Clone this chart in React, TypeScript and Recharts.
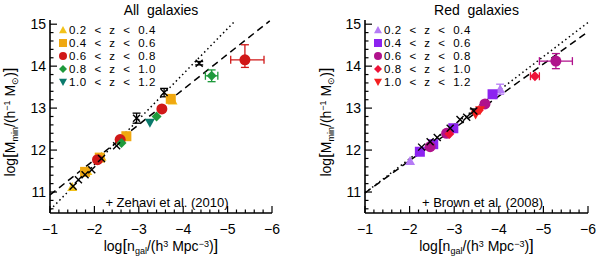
import React from 'react'
import {
  ScatterChart,
  Scatter,
  XAxis,
  YAxis,
  ErrorBar,
  ReferenceLine,
} from 'recharts'

// ---- data ----
const X_MAJOR = [-1, -2, -3, -4, -5, -6]
const Y_MAJOR = [11, 12, 13, 14, 15]
const X_DOMAIN = [-6, -1]
const Y_DOMAIN = [10.5, 15.1]

const zBins = ['0.2  <  z  <  0.4', '0.4  <  z  <  0.6', '0.6  <  z  <  0.8', '0.8  <  z  <  1.0', '1.0  <  z  <  1.2']

// All galaxies
const zehavi = [
  { x: -1.52, y: 11.14 },
  { x: -1.64, y: 11.29 },
  { x: -1.79, y: 11.41 },
  { x: -1.94, y: 11.53 },
  { x: -2.16, y: 11.8 },
  { x: -2.5, y: 12.1 },
  { x: -2.95, y: 12.76, ey: 0.12 },
  { x: -3.57, y: 13.37, ey: 0.1 },
  { x: -4.36, y: 14.07, ey: 0.04 },
]
const allZ02 = [
  { x: -1.5, y: 11.12 },
  { x: -1.84, y: 11.5 },
  { x: -2.16, y: 11.84 },
  { x: -3.76, y: 13.18 },
]
const allZ04 = [
  { x: -1.79, y: 11.48 },
  { x: -2.12, y: 11.82 },
  { x: -2.72, y: 12.33 },
  { x: -3.72, y: 13.22 },
]
const allZ06 = [
  { x: -2.07, y: 11.77 },
  { x: -2.58, y: 12.25 },
  { x: -3.52, y: 12.98 },
  { x: -5.39, y: 14.15, ex: [0.43, 0.32], ey: [0.18, 0.36] },
]
const allZ08 = [
  { x: -2.61, y: 12.17 },
  { x: -3.4, y: 12.8 },
  { x: -4.64, y: 13.77, ex: 0.14, ey: 0.14 },
]
const allZ10 = [{ x: -3.25, y: 12.65 }]
const allDashed = [
  { x: -1, y: 10.93 },
  { x: -5.95, y: 15.08 },
]
const allDotted = [
  { x: -1, y: 10.57 },
  { x: -5.17, y: 15.08 },
]

// Red galaxies
const brown = [
  { x: -2.27, y: 12.07 },
  { x: -2.46, y: 12.2 },
  { x: -2.62, y: 12.3 },
  { x: -2.91, y: 12.52 },
  { x: -3.13, y: 12.73 },
  { x: -3.28, y: 12.78 },
  { x: -3.44, y: 12.93, ey: 0.05 },
]
const redZ02 = [
  { x: -2.01, y: 11.74 },
  { x: -4.03, y: 13.45, ey: 0.12 },
]
const redZ04 = [
  { x: -2.23, y: 11.96 },
  { x: -2.53, y: 12.14 },
  { x: -2.98, y: 12.52 },
  { x: -3.86, y: 13.33 },
]
const redZ06 = [
  { x: -2.46, y: 12.08 },
  { x: -2.83, y: 12.4 },
  { x: -3.69, y: 13.1 },
  { x: -5.28, y: 14.12, ex: 0.37, ey: 0.18 },
]
const redZ08 = [
  { x: -2.89, y: 12.38 },
  { x: -3.55, y: 12.95 },
  { x: -4.81, y: 13.76, ex: 0.1 },
]
const redZ10 = [
  { x: -3.48, y: 12.85 },
  { x: -3.58, y: 12.95 },
]
const redDashed = [
  { x: -1, y: 10.98 },
  { x: -6, y: 14.82 },
]
const redDotted = [
  { x: -1, y: 10.98 },
  { x: -6, y: 15.04 },
]

const FONT = '"Liberation Sans", Arial, sans-serif'
const INK = '#000'

// minor ticks every 0.2 between majors
function withMinors(lo: number, hi: number) {
  const out: number[] = []
  for (let i = Math.round(lo * 5); i <= Math.round(hi * 5); i++) out.push(i / 5)
  return out
}
const xTicks = withMinors(-6, -1)
const yTicks = withMinors(10.6, 15)
const isMajor = (v: number) => Math.abs(v - Math.round(v)) < 1e-6

type Kind = 'triUp' | 'square' | 'circle' | 'diamond' | 'triDown' | 'cross'

function Glyph({ kind, cx, cy, color, s }: { kind: Kind; cx: number; cy: number; color: string; s: number }) {
  if (cx == null || cy == null) return null
  switch (kind) {
    case 'triUp':
      return <polygon points={`${cx},${cy - s} ${cx - s},${cy + s * 0.8} ${cx + s},${cy + s * 0.8}`} fill={color} />
    case 'triDown':
      return <polygon points={`${cx},${cy + s} ${cx - s},${cy - s * 0.8} ${cx + s},${cy - s * 0.8}`} fill={color} />
    case 'square':
      return <rect x={cx - s} y={cy - s} width={2 * s} height={2 * s} fill={color} />
    case 'circle':
      return <circle cx={cx} cy={cy} r={s} fill={color} />
    case 'diamond':
      return <polygon points={`${cx},${cy - s} ${cx + s},${cy} ${cx},${cy + s} ${cx - s},${cy}`} fill={color} />
    default:
      return (
        <g stroke={color} strokeWidth={1.4}>
          <line x1={cx - s} y1={cy - s} x2={cx + s} y2={cy + s} />
          <line x1={cx - s} y1={cy + s} x2={cx + s} y2={cy - s} />
        </g>
      )
  }
}

const shapeOf = (kind: Kind, color: string, s: number) => (p: any) => (
  <Glyph kind={kind} cx={p.cx} cy={p.cy} color={color} s={s} />
)

// ---- axis ticks drawn inward (IDL style) ----
function BottomTick(p: any) {
  const v = p.payload.value
  const len = isMajor(v) ? 7 : 3.5
  return (
    <g>
      <line x1={p.x} x2={p.x} y1={p.y} y2={p.y - len} stroke={INK} strokeWidth={1.2} />
      {isMajor(v) && (
        <text x={p.x} y={p.y + 21} textAnchor="middle" fontSize={14} fontFamily={FONT} fill={INK}>
          {'\u2212' + Math.abs(v)}
        </text>
      )}
    </g>
  )
}
function TopTick(p: any) {
  const len = isMajor(p.payload.value) ? 7 : 3.5
  return <line x1={p.x} x2={p.x} y1={p.y} y2={p.y + len} stroke={INK} strokeWidth={1.2} />
}
function LeftTick(p: any) {
  const v = p.payload.value
  const len = isMajor(v) ? 7 : 3.5
  return (
    <g>
      <line x1={p.x} x2={p.x + len} y1={p.y} y2={p.y} stroke={INK} strokeWidth={1.2} />
      {isMajor(v) && (
        <text x={p.x - 4} y={p.y + 5} textAnchor="end" fontSize={14} fontFamily={FONT} fill={INK}>
          {v}
        </text>
      )}
    </g>
  )
}
function RightTick(p: any) {
  const len = isMajor(p.payload.value) ? 7 : 3.5
  return <line x1={p.x} x2={p.x - len} y1={p.y} y2={p.y} stroke={INK} strokeWidth={1.2} />
}

interface SeriesDef {
  name: string
  data: { x: number; y: number; ex?: any; ey?: any }[]
  kind: Kind
  color: string
  size: number
}

interface PanelProps {
  title: string
  series: SeriesDef[]
  ref: SeriesDef
  refLabel: string
  dashed: { x: number; y: number }[]
  dotted: { x: number; y: number }[]
  yAxisWidth: number
  rightMargin: number
  legendX: number
  yLabelX: number
}

function Panel({ title, series, ref, refLabel, dashed, dotted, yAxisWidth, rightMargin, legendX, yLabelX }: PanelProps) {
  const plotLeft = yAxisWidth
  const plotRight = 300 - rightMargin
  const cx = (plotLeft + plotRight) / 2
  const line = { stroke: INK, strokeWidth: 1.5, strokeLinecap: 'butt' as const }
  const all = [...series, ref]
  return (
    <div style={{ position: 'relative', width: 300, height: 260 }}>
      <ScatterChart width={300} height={260} margin={{ top: 20, right: rightMargin, bottom: 0, left: 0 }}>
        <XAxis
          type="number"
          dataKey="x"
          domain={X_DOMAIN}
          reversed
          allowDataOverflow
          ticks={xTicks}
          interval={0}
          tickSize={0}
          tickMargin={0}
          height={47}
          axisLine={{ stroke: INK, strokeWidth: 1.6 }}
          tick={<BottomTick />}
        />
        <XAxis
          xAxisId="top"
          orientation="top"
          type="number"
          domain={X_DOMAIN}
          reversed
          allowDataOverflow
          ticks={xTicks}
          interval={0}
          tickSize={0}
          tickMargin={0}
          height={0}
          axisLine={{ stroke: INK, strokeWidth: 1.6 }}
          tick={<TopTick />}
        />
        <YAxis
          type="number"
          dataKey="y"
          domain={Y_DOMAIN}
          allowDataOverflow
          ticks={yTicks}
          interval={0}
          tickSize={0}
          tickMargin={0}
          width={yAxisWidth}
          axisLine={{ stroke: INK, strokeWidth: 1.6 }}
          tick={<LeftTick />}
        />
        <YAxis
          yAxisId="right"
          orientation="right"
          type="number"
          domain={Y_DOMAIN}
          allowDataOverflow
          ticks={yTicks}
          interval={0}
          tickSize={0}
          tickMargin={0}
          width={0}
          axisLine={{ stroke: INK, strokeWidth: 1.6 }}
          tick={<RightTick />}
        />
        <ReferenceLine segment={dotted} {...line} strokeDasharray="1.5 3" ifOverflow="visible" />
        <ReferenceLine segment={dashed} {...line} strokeDasharray="7 4.5" ifOverflow="visible" />
        {all.map((s) => (
          <Scatter
            key={s.name}
            name={s.name}
            data={s.data}
            isAnimationActive={false}
            shape={shapeOf(s.kind, s.color, s.size)}
          >
            <ErrorBar dataKey="ey" direction="y" width={4} stroke={s.color} strokeWidth={1.3} />
            <ErrorBar dataKey="ex" direction="x" width={4} stroke={s.color} strokeWidth={1.3} />
          </Scatter>
        ))}
      </ScatterChart>
      <svg
        width={300}
        height={260}
        style={{ position: 'absolute', left: 0, top: 0, pointerEvents: 'none' }}
        fontFamily={FONT}
        fill={INK}
      >
        <text x={cx} y={15} textAnchor="middle" fontSize={14} style={{ whiteSpace: 'pre' }}>
          {title}
        </text>
        {series.map((s, i) => (
          <g key={s.name}>
            <Glyph kind={s.kind} cx={legendX} cy={30 + i * 13} color={s.color} s={4} />
            <text
              x={legendX + 6}
              y={34 + i * 13}
              fontSize={11.5}
              letterSpacing={0.6}
              style={{ whiteSpace: 'pre' }}
            >
              {zBins[i]}
            </text>
          </g>
        ))}
        <text x={cx + 6} y={207} textAnchor="middle" fontSize={13}>
          {refLabel}
        </text>
        <text x={cx} y={251} textAnchor="middle" fontSize={14}>
          log<tspan fontSize={17}>[</tspan>n<tspan fontSize={9} dy={3}>gal</tspan>
          <tspan dy={-3}>/(h</tspan>
          <tspan fontSize={9} dy={-4}>3</tspan>
          <tspan dy={4}> Mpc</tspan>
          <tspan fontSize={9} dy={-4}>{'\u22123'}</tspan>
          <tspan dy={4}>)</tspan>
          <tspan fontSize={17}>]</tspan>
        </text>
        <text
          x={yLabelX}
          y={122}
          textAnchor="middle"
          fontSize={14}
          transform={`rotate(-90 ${yLabelX} 122)`}
        >
          log<tspan fontSize={17}>[</tspan>M<tspan fontSize={9} dy={3}>min</tspan>
          <tspan dy={-3}>/(h</tspan>
          <tspan fontSize={9} dy={-5}>{'\u22121'}</tspan>
          <tspan dy={5}> M</tspan>
          <tspan fontSize={9} dy={3}>{'\u2299'}</tspan>
          <tspan dy={-3}>)</tspan>
          <tspan fontSize={17}>]</tspan>
        </text>
      </svg>
    </div>
  )
}

export default function App() {
  const allSeries: SeriesDef[] = [
    { name: 'a02', data: allZ02, kind: 'triUp', color: '#F2C21A', size: 5 },
    { name: 'a04', data: allZ04, kind: 'square', color: '#F0A810', size: 5 },
    { name: 'a06', data: allZ06, kind: 'circle', color: '#D01818', size: 5.5 },
    { name: 'a08', data: allZ08, kind: 'diamond', color: '#1E9A3C', size: 5 },
    { name: 'a10', data: allZ10, kind: 'triDown', color: '#0B7A6C', size: 5 },
  ]
  const redSeries: SeriesDef[] = [
    { name: 'r02', data: redZ02, kind: 'triUp', color: '#B57BF5', size: 5 },
    { name: 'r04', data: redZ04, kind: 'square', color: '#8C22F0', size: 5 },
    { name: 'r06', data: redZ06, kind: 'circle', color: '#B0128C', size: 5.5 },
    { name: 'r08', data: redZ08, kind: 'diamond', color: '#EE1238', size: 5 },
    { name: 'r10', data: redZ10, kind: 'triDown', color: '#F42020', size: 5 },
  ]
  return (
    <div style={{ position: 'absolute', left: 0, top: 0, width: 600, height: 260, display: 'flex', background: '#fff' }}>
      <Panel
        title="All  galaxies"
        series={allSeries}
        ref={{ name: 'zehavi', data: zehavi, kind: 'cross', color: INK, size: 3.5 }}
        refLabel="+ Zehavi et al. (2010)"
        dashed={allDashed}
        dotted={allDotted}
        yAxisWidth={50}
        rightMargin={28}
        legendX={63}
        yLabelX={15}
      />
      <Panel
        title="Red  galaxies"
        series={redSeries}
        ref={{ name: 'brown', data: brown, kind: 'cross', color: INK, size: 3.5 }}
        refLabel="+ Brown et al. (2008)"
        dashed={redDashed}
        dotted={redDotted}
        yAxisWidth={65}
        rightMargin={12}
        legendX={78}
        yLabelX={31}
      />
    </div>
  )
}
